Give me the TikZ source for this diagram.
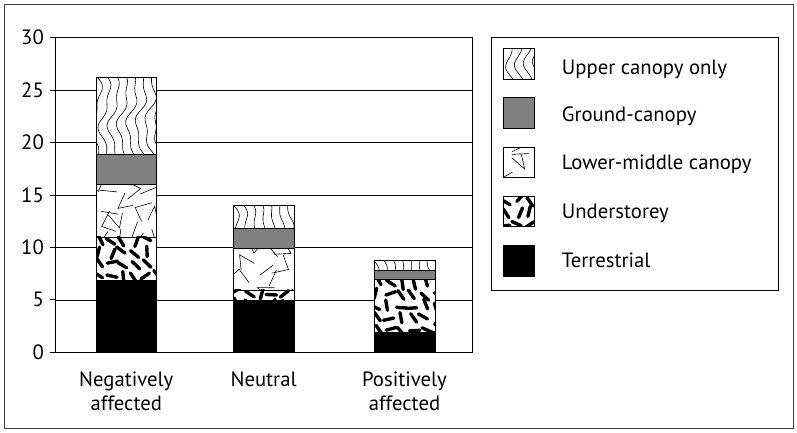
\documentclass[tikz,border=0pt]{standalone}
\usepackage{fontspec}
\setmainfont{PT Sans}
\definecolor{gcol}{HTML}{808080}
\tikzset{
  outerframe/.style={draw=black!75, line width=0.9pt},
  gridline/.style={draw=black, line width=0.6pt},
  axisline/.style={draw=black, line width=0.8pt},
  segbox/.style={draw=black, line width=0.7pt},
  thinmark/.style={draw=black, line width=0.6pt, line cap=round},
  blob/.style={draw=black, line width=3.4pt, line cap=round},
  lbl/.style={font=\fontsize{20.7}{24}\selectfont, inner sep=0pt, text=black},
}
% understorey: thick short dashes
\newcommand\PatUnder[5]{%
  \begin{scope}
  \clip (#1,#2) rectangle (#3,#4);
  \pgfmathsetseed{#5}
  \foreach \a in {0,...,5}{
    \foreach \b in {0,...,5}{
      \pgfmathsetmacro\cx{#1+3+\a*12+rand*2.5}
      \pgfmathsetmacro\cy{#2+3+\b*12+rand*2.5}
      \pgfmathsetmacro\ang{rnd*180}
      \pgfmathsetmacro\dx{5.2*cos(\ang)}
      \pgfmathsetmacro\dy{5.2*sin(\ang)}
      \draw[blob] (\cx-\dx,\cy-\dy) -- (\cx+\dx,\cy+\dy);
    }}
  \end{scope}}
% lower-middle canopy: thin segments and V shapes
\newcommand\PatLower[5]{%
  \begin{scope}
  \clip (#1,#2) rectangle (#3,#4);
  \pgfmathsetseed{#5}
  \foreach \a in {0,...,3}{
    \foreach \b in {0,...,3}{
      \pgfmathsetmacro\cx{#1+5+\a*18+rand*4}
      \pgfmathsetmacro\cy{#2+5+\b*18+rand*4}
      \pgfmathsetmacro\ang{rnd*360}
      \pgfmathsetmacro\angb{\ang+35+rnd*50}
      \pgfmathsetmacro\ex{\cx+17*cos(\ang)}
      \pgfmathsetmacro\ey{\cy+17*sin(\ang)}
      \pgfmathsetmacro\fx{\cx+15*cos(\angb)}
      \pgfmathsetmacro\fy{\cy+15*sin(\angb)}
      \pgfmathparse{rnd<0.5 ? 1 : 0}
      \ifnum\pgfmathresult=1
        \draw[thinmark] (\ex,\ey) -- (\cx,\cy) -- (\fx,\fy);
      \else
        \draw[thinmark] (\ex,\ey) -- (\cx,\cy);
      \fi
    }}
  \end{scope}}
% upper canopy: meandering contour-like lines
\newcommand\PatUpper[5]{%
  \begin{scope}
  \clip (#1,#2) rectangle (#3,#4);
  \pgfmathsetseed{#5}
  \pgfmathsetmacro\ph{rnd*360}
  \foreach \k in {-1,...,7}{
    \draw[thinmark] plot[smooth, samples=22, domain=#2:#4]
      ({#1+\k*9+5*sin(5*(\x-#2)+\ph)+2.2*sin(12*(\x-#2)+\k*30)}, \x);
  }
  \end{scope}}
\begin{document}
\begin{tikzpicture}[x=1pt,y=-1pt]
\useasboundingbox (0,0) rectangle (797,432);
\fill[white] (0,0) rectangle (797,432);
\draw[outerframe] (4,4) rectangle (793,428);

% grid
\foreach \g in {90.1,142.5,195.0,247.4,299.85}{
  \draw[gridline] (55.5,\g) -- (472.3,\g);
}
\draw[axisline] (55.5,37.6) rectangle (472.3,352.3);
\foreach \g in {37.6,90.1,142.5,195.0,247.4,299.85,352.3}{
  \draw[axisline] (50,\g) -- (55.5,\g);
}

% y labels
\node[lbl, anchor=east] (y0) at (44,352.3) {0};
\node[lbl, anchor=east] (y5) at (44,299.85) {5};
\node[lbl, anchor=east] (y10) at (44,247.4) {10};
\node[lbl, anchor=east] (y15) at (44,195.0) {15};
\node[lbl, anchor=east] (y20) at (44,142.5) {20};
\node[lbl, anchor=east] (y25) at (44,90.1) {25};
\node[lbl, anchor=east] (y30) at (44,37.6) {30};

% ---- bar 1
\fill[white] (96,77.5) rectangle (156.7,352.3);
\fill[black] (96,279.9) rectangle (156.7,352.3);
\PatUnder{96}{236.9}{156.7}{279.9}{11}
\PatLower{96}{184.5}{156.7}{236.9}{12}
\fill[gcol] (96,154.0) rectangle (156.7,184.5);
\PatUpper{96}{77.5}{156.7}{154.0}{13}
\foreach \t/\b in {279.9/352.3,236.9/279.9,184.5/236.9,154.0/184.5,77.5/154.0}{
  \draw[segbox] (96,\t) rectangle (156.7,\b);
}

% ---- bar 2
\fill[white] (233.3,205.4) rectangle (294,352.3);
\fill[black] (233.3,299.9) rectangle (294,352.3);
\PatUnder{233.3}{289.9}{294}{299.9}{21}
\PatLower{233.3}{248.4}{294}{289.9}{22}
\fill[gcol] (233.3,228.5) rectangle (294,248.4);
\PatUpper{233.3}{205.4}{294}{228.5}{23}
\foreach \t/\b in {299.9/352.3,289.9/299.9,248.4/289.9,228.5/248.4,205.4/228.5}{
  \draw[segbox] (233.3,\t) rectangle (294,\b);
}

% ---- bar 3
\fill[white] (374,260.0) rectangle (435,352.3);
\fill[black] (374,332.4) rectangle (435,352.3);
\PatUnder{374}{279.3}{435}{332.4}{31}
\fill[gcol] (374,270.0) rectangle (435,279.3);
\PatUpper{374}{260.0}{435}{270.0}{33}
\foreach \t/\b in {332.4/352.3,279.3/332.4,270.0/279.3,260.0/270.0}{
  \draw[segbox] (374,\t) rectangle (435,\b);
}

% category labels
\node[lbl, anchor=base] (c1a) at (126.3,386) {Negatively};
\node[lbl, anchor=base] (c1b) at (126.3,410) {affected};
\node[lbl, anchor=base] (c2a) at (263.6,386) {Neutral};
\node[lbl, anchor=base] (c3a) at (404.5,386) {Positively};
\node[lbl, anchor=base] (c3b) at (404.5,410) {affected};

% legend
\draw[segbox] (491.7,37.7) rectangle (778.3,290);
\fill[white] (503.5,48.3) rectangle (534.5,79);
\PatUpper{503.5}{48.3}{534.5}{79}{41}
\draw[segbox] (503.5,48.3) rectangle (534.5,79);
\fill[gcol] (503.5,97.3) rectangle (534.5,128.3);
\draw[segbox] (503.5,97.3) rectangle (534.5,128.3);
\PatLower{503.5}{147.3}{534.5}{177.3}{43}
\draw[segbox] (503.5,147.3) rectangle (534.5,177.3);
\PatUnder{503.5}{196.7}{534.5}{226.7}{44}
\draw[segbox] (503.5,196.7) rectangle (534.5,226.7);
\fill[black] (503.5,245) rectangle (534.5,276);
\draw[segbox] (503.5,245) rectangle (534.5,276);

\node[lbl, anchor=base west] (l1) at (561.7,74) {Upper canopy only};
\node[lbl, anchor=base west] (l2) at (561.7,121) {Ground-canopy};
\node[lbl, anchor=base west] (l3) at (561.7,169) {Lower-middle canopy};
\node[lbl, anchor=base west] (l4) at (561.7,218) {Understorey};
\node[lbl, anchor=base west] (l5) at (561.7,267) {Terrestrial};
\end{tikzpicture}
\end{document}
